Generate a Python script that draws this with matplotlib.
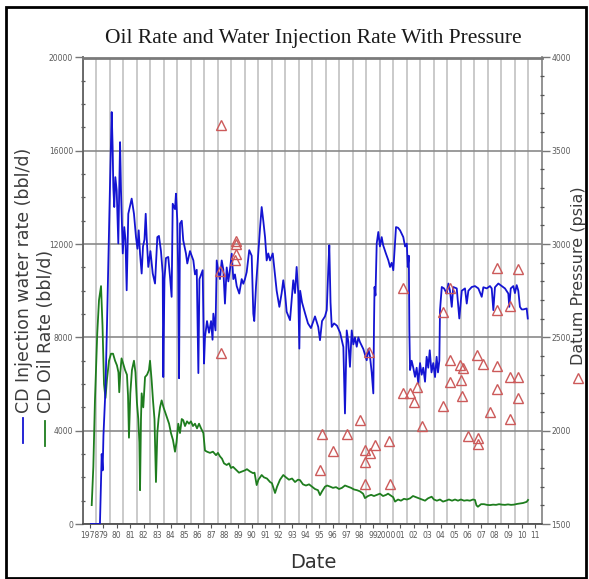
import matplotlib
matplotlib.use("Agg")
import matplotlib.pyplot as plt
from matplotlib.lines import Line2D
from matplotlib.patches import Rectangle
import numpy as np

# ---- water injection rate (bbl/d) ----
inj_year = [1978.60, 1979.25, 1979.27, 1979.40, 1979.47, 1979.53, 1979.64, 1979.68, 1979.79, 1979.90,
            1980.01, 1980.14, 1980.21, 1980.26, 1980.33, 1980.41, 1980.51, 1980.63, 1980.76, 1980.83,
            1980.90, 1980.96, 1981.07, 1981.16, 1981.25, 1981.37, 1981.62, 1981.79, 1981.94, 1982.05,
            1982.14, 1982.24, 1982.36, 1982.46, 1982.57, 1982.66, 1982.73, 1982.85, 1983.01, 1983.18,
            1983.35, 1983.52, 1983.64, 1983.79, 1983.92, 1983.96, 1984.05, 1984.16, 1984.33, 1984.46,
            1984.58, 1984.66, 1984.83, 1984.90, 1985.00, 1985.07, 1985.13, 1985.20, 1985.33, 1985.44,
            1985.64, 1985.74, 1985.94, 1986.19, 1986.31, 1986.44, 1986.56, 1986.64, 1986.88, 1986.98,
            1987.05, 1987.20, 1987.35, 1987.50, 1987.61, 1987.67, 1987.83, 1987.92, 1988.04, 1988.16,
            1988.29, 1988.41, 1988.53, 1988.66, 1988.78, 1988.90, 1989.03, 1989.15, 1989.27, 1989.40,
            1989.59, 1989.77, 1989.89, 1990.01, 1990.14, 1990.33, 1990.51, 1990.63, 1990.70, 1990.83,
            1991.00, 1991.13, 1991.25, 1991.37, 1991.50, 1991.62, 1991.74, 1991.87, 1992.07, 1992.16,
            1992.36, 1992.56, 1992.73, 1992.85, 1992.98, 1993.10, 1993.35, 1993.59, 1993.72, 1993.84,
            1993.96, 1994.04, 1994.10, 1994.24, 1994.47, 1994.68, 1994.90, 1995.20, 1995.44, 1995.57,
            1995.72, 1995.94, 1996.07, 1996.19, 1996.26, 1996.35, 1996.44, 1996.61, 1996.83, 1997.06,
            1997.30, 1997.42, 1997.55, 1997.67, 1997.79, 1997.92, 1998.04, 1998.16, 1998.29, 1998.41,
            1998.53, 1998.78, 1999.03, 1999.15, 1999.27, 1999.40, 1999.52, 1999.57, 1999.61, 1999.68,
            1999.77, 1999.89, 2000.01, 2000.14, 2000.25, 2000.45, 2000.63, 2000.76, 2000.88, 2001.00,
            2001.10, 2001.20, 2001.35, 2001.50, 2001.62, 2001.74, 2001.87, 2002.00, 2002.07, 2002.15,
            2002.19, 2002.24, 2002.36, 2002.48, 2002.61, 2002.73, 2002.85, 2002.98, 2003.10, 2003.22,
            2003.35, 2003.47, 2003.59, 2003.70, 2003.83, 2003.96, 2004.09, 2004.21, 2004.31, 2004.41,
            2004.46, 2004.59, 2004.76, 2004.96, 2005.08, 2005.20, 2005.33, 2005.44, 2005.70, 2005.89,
            2006.07, 2006.31, 2006.44, 2006.56, 2006.81, 2007.05, 2007.30, 2007.55, 2007.67, 2007.92,
            2008.16, 2008.29, 2008.41, 2008.53, 2008.78, 2009.03, 2009.27, 2009.52, 2009.59, 2009.70,
            2009.89, 2010.01, 2010.14, 2010.26, 2010.38, 2010.51, 2010.64, 2010.88, 2010.96]
inj_rate = [0, 0, 0, 3000, 2300, 3800, 5300, 5800, 8500, 11500,
            14400, 17660, 16160, 14450, 13590, 14870, 14300, 12030, 16370, 14300,
            12890, 11600, 12730, 12200, 10020, 13300, 13950, 13300, 12300, 11800,
            12590, 11590, 10740, 11900, 12200, 13300, 12300, 11020, 11700, 10740,
            10310, 12300, 12350, 11700, 10740, 6300, 10500, 11400, 11450, 10600,
            9740, 13730, 13500, 14160, 13000, 10700, 6250, 12880, 13000, 12160,
            11600, 11170, 11700, 11300, 10700, 10900, 6470, 10500, 10880, 6880,
            8000, 8700, 8200, 8700, 7900, 9020, 8300, 11300, 10800, 10500,
            11300, 10900, 9450, 11000, 10400, 10900, 11590, 10500, 10700, 10200,
            9880, 10500, 10300, 10500, 10800, 11740, 11500, 9020, 8700, 10200,
            11600, 12700, 13590, 13000, 12300, 11300, 11600, 11300, 11600, 11100,
            10000, 9310, 9900, 10450, 9900, 9100, 8740, 10450, 9900, 11020,
            9900, 7520, 10000, 9500, 9020, 8600, 8400, 8900, 8450, 7880,
            8700, 8900, 9170, 11020, 11950, 9500, 8450, 8600, 8500, 8200,
            7590, 4740, 8300, 7800, 6740, 8300, 7700, 8000, 7600, 8000,
            7800, 7500, 7020, 7500, 7200, 6500, 5600, 8500, 10160, 9800,
            12020, 12520, 11900, 12300, 11950, 11600, 11310, 11020, 11200, 10880,
            11800, 12730, 12700, 12590, 12450, 12300, 11900, 12020, 11020, 11500,
            8300, 6600, 7000, 6700, 6310, 6700, 6030, 6900, 6400, 6700,
            6100, 7170, 6700, 7450, 6500, 6900, 6300, 7170, 6500, 7000,
            9170, 10160, 10100, 9880, 10310, 10000, 9310, 10160, 10100, 8810,
            10000, 10100, 9450, 10000, 10160, 10200, 10100, 9740, 10150, 10100,
            10200, 10100, 9170, 10150, 10310, 10200, 10100, 9880, 9310, 10100,
            10200, 9900, 10240, 10000, 9310, 9200, 9200, 9240, 8810]

# ---- oil rate (bbl/d) ----
oil_year = [1978.66, 1978.78, 1978.90, 1979.07, 1979.20, 1979.35, 1979.46, 1979.57, 1979.68, 1979.79,
            1979.94, 1980.09, 1980.24, 1980.39, 1980.53, 1980.64, 1980.70, 1980.78, 1980.87, 1980.98,
            1981.13, 1981.27, 1981.35, 1981.42, 1981.52, 1981.64, 1981.79, 1981.90, 1982.01, 1982.11,
            1982.19, 1982.24, 1982.31, 1982.36, 1982.48, 1982.61, 1982.76, 1982.90, 1982.98, 1983.10,
            1983.20, 1983.31, 1983.42, 1983.52, 1983.61, 1983.72, 1983.84, 1983.98, 1984.21, 1984.39,
            1984.53, 1984.68, 1984.83, 1984.94, 1985.07, 1985.20, 1985.33, 1985.44, 1985.57, 1985.72,
            1985.87, 1986.01, 1986.16, 1986.31, 1986.46, 1986.61, 1986.76, 1986.93, 1987.05, 1987.20,
            1987.42, 1987.64, 1987.87, 1988.01, 1988.16, 1988.31, 1988.46, 1988.66, 1988.83, 1988.98,
            1989.13, 1989.40, 1989.57, 1989.79, 1990.01, 1990.16, 1990.39, 1990.61, 1990.72, 1990.88,
            1991.01, 1991.25, 1991.42, 1991.64, 1991.87, 1992.01, 1992.24, 1992.39, 1992.61, 1992.85,
            1993.05, 1993.27, 1993.50, 1993.72, 1993.94, 1994.09, 1994.31, 1994.53, 1994.76, 1994.98,
            1995.20, 1995.42, 1995.57, 1995.72, 1995.94, 1996.10, 1996.33, 1996.53, 1996.76, 1996.98,
            1997.20, 1997.42, 1997.64, 1997.87, 1998.09, 1998.31, 1998.53, 1998.76, 1998.90, 1999.13,
            1999.36, 1999.57, 1999.79, 2000.01, 2000.24, 2000.47, 2000.61, 2000.76, 2000.99, 2001.13,
            2001.35, 2001.57, 2001.79, 2002.01, 2002.24, 2002.46, 2002.68, 2002.90, 2003.13, 2003.35,
            2003.57, 2003.84, 2004.01, 2004.23, 2004.46, 2004.68, 2004.90, 2005.12, 2005.35, 2005.57,
            2005.79, 2006.01, 2006.24, 2006.46, 2006.68, 2006.90, 2007.05, 2007.16, 2007.27, 2007.50,
            2007.72, 2007.94, 2008.16, 2008.39, 2008.61, 2008.83, 2009.05, 2009.27, 2009.50, 2009.72,
            2009.94, 2010.16, 2010.38, 2010.61, 2010.88, 2010.98]
oil_rate = [810, 2450, 5300, 8170, 9600, 10200, 8500, 6000, 5400, 6200,
            7000, 7300, 7300, 7000, 6800, 6500, 5650, 6500, 7100, 6900,
            6600, 6400, 5500, 3700, 5600, 6600, 7000, 6500, 5200, 4500,
            3500, 1450, 4500, 5600, 5000, 6300, 6400, 6600, 7000, 6150,
            5300, 4500, 1800, 3900, 4500, 5000, 5300, 5000, 4600, 4300,
            3900, 3600, 3100, 3500, 4300, 3900, 4500, 4450, 4200, 4400,
            4300, 4400, 4200, 4300, 4100, 4300, 4100, 3900, 3150, 3100,
            3050, 3100, 2950, 3050, 2900, 2800, 2600, 2530, 2600, 2400,
            2450, 2300, 2200, 2250, 2300, 2350, 2250, 2180, 2200, 1670,
            1900, 2100, 2000, 1950, 1800, 1750, 1330, 1600, 1900, 2100,
            2000, 1900, 1950, 1800, 1900, 1880, 1700, 1650, 1700, 1600,
            1500, 1450, 1240, 1400, 1600, 1650, 1600, 1550, 1580, 1500,
            1550, 1650, 1600, 1550, 1480, 1450, 1400, 1300, 1110, 1200,
            1250, 1200, 1250, 1300, 1200, 1250, 1300, 1240, 1150, 960,
            1050, 1000, 1080, 1050, 1100, 1200, 1150, 1100, 1050, 1000,
            1100, 1170, 1050, 1000, 1050, 960, 1000, 1050, 1000, 1050,
            1000, 1050, 1000, 1020, 1000, 1050, 1030, 800, 740, 850,
            850, 820, 810, 830, 820, 850, 830, 820, 840, 820,
            830, 860, 880, 900, 950, 1030]

# ---- datum pressure (psia) ----
prs_year = [1988.24, 1988.16, 1988.24, 1989.35, 1989.35, 1989.35, 1989.30, 1995.70, 1995.57, 1996.56,
            1997.59, 1998.53, 1998.90, 1998.90, 1998.90, 1999.19, 1999.27, 1999.64, 2000.70, 2000.76,
            2001.74, 2001.74, 2002.24, 2002.56, 2002.73, 2003.10, 2004.66, 2004.66, 2005.20, 2005.20,
            2005.20, 2005.94, 2006.19, 2006.01, 2006.07, 2006.56, 2007.18, 2007.30, 2007.30, 2007.62,
            2008.16, 2008.66, 2008.66, 2008.66, 2008.66, 2009.64, 2009.64, 2009.64, 2010.26, 2010.26,
            2010.26]
prs_psia = [3640, 2854, 2417, 3015, 2999, 2945, 2913, 1980, 1789, 1891,
            1982, 2060, 1896, 1834, 1713, 2422, 1878, 1923, 1946, 1713,
            2200, 2767, 2203, 2155, 2235, 2025, 2132, 2638, 2378, 2262,
            2767, 2351, 2337, 2271, 2187, 1971, 2405, 1962, 1927, 2355,
            2101, 2346, 2221, 2646, 2874, 2289, 2065, 2670, 2289, 2176,
            2869]

year_ticks = list(range(1978, 2012))
year_labels = ["1978"] + [f"{y % 100:02d}" for y in range(1979, 2000)] + ["2000"] + \
              [f"{y % 100:02d}" for y in range(2001, 2012)]

W, H = 589, 579
fig = plt.figure(figsize=(W / 100, H / 100), dpi=100)
fig.patch.set_facecolor("white")

narrow = ["Liberation Sans Narrow", "DejaVu Sans"]
tick_col = "#5a5a5a"

ax = fig.add_axes([82.8 / W, 1 - 524 / H, (541.8 - 82.8) / W, (524 - 57.5) / H])
ax.set_xlim(1978, 2012)
ax.set_ylim(0, 20000)

# year boundaries as grid, labels centred in each year
ax.set_xticks([y + 0.5 for y in year_ticks])
ax.set_xticklabels(year_labels, fontsize=5.5, family=narrow, color=tick_col)
ax.set_xticks(year_ticks, minor=True)
ax.grid(True, which="minor", axis="x", color="#c6c6c6", lw=1.3)
ax.tick_params(axis="x", which="major", length=3, width=0.8, color="#555555", pad=2)
ax.tick_params(axis="x", which="minor", length=0)

ax.set_yticks([0, 4000, 8000, 12000, 16000, 20000])
ax.set_yticklabels(["0", "4000", "8000", "12000", "16000", "20000"],
                   fontsize=5.5, family=narrow, color=tick_col)
ax.set_yticks(np.arange(0, 20001, 1000), minor=True)
ax.grid(True, which="major", axis="y", color="#8a8a8a", lw=1.2)
ax.tick_params(axis="y", which="major", length=6, width=1.0, color="#777777", pad=1)
ax.tick_params(axis="y", which="minor", length=2.5, width=0.9, color="#555555", direction="inout")
ax.set_axisbelow(True)

for side, col, lw in [("left", "#606060", 1.3), ("bottom", "#505050", 1.3),
                      ("top", "#7a7a7a", 2.0), ("right", "#8a8a8a", 1.3)]:
    ax.spines[side].set_color(col)
    ax.spines[side].set_linewidth(lw)

ax.plot(oil_year, oil_rate, color="#1e7d1e", lw=1.3, zorder=3)
ax.plot(inj_year, inj_rate, color="#1414d2", lw=1.3, zorder=4)

ax2 = ax.twinx()
ax2.set_ylim(1500, 4000)
ax2.set_yticks([1500, 2000, 2500, 3000, 3500, 4000])
ax2.set_yticklabels(["1500", "2000", "2500", "3000", "3500", "4000"],
                    fontsize=5.5, family=narrow, color=tick_col)
ax2.set_yticks(np.arange(1500, 4001, 100), minor=True)
ax2.tick_params(axis="y", which="major", length=6, width=1.0, color="#777777", pad=1)
ax2.tick_params(axis="y", which="minor", length=2.5, width=0.9, color="#555555", direction="inout")
for side in ax2.spines:
    ax2.spines[side].set_visible(False)
ax2.plot(prs_year, prs_psia, ls="none", marker="^", ms=6.5, mfc="none",
         mec="#cc5a5a", mew=1.0, zorder=5)

# title and axis captions
fig.text(313 / W, 1 - 39 / H, "Oil Rate and Water Injection Rate With Pressure",
         ha="center", va="center", fontsize=15.5, family="Liberation Serif", color="#1a1a1a")
fig.text(313 / W, 1 - 562 / H, "Date", ha="center", va="center", fontsize=14,
         family=narrow, color="#333333")

lab_col = "#3c3c3c"
fig.add_artist(Line2D([23 / W, 23 / W], [1 - 443 / H, 1 - 418 / H], color="#1414d2", lw=1.3))
fig.text(24 / W, 1 - 413 / H, "CD Injection water rate (bbl/d)", rotation=90,
         ha="center", va="bottom", fontsize=12.5, color=lab_col)
fig.add_artist(Line2D([45 / W, 45 / W], [1 - 446 / H, 1 - 421 / H], color="#1e7d1e", lw=1.3))
fig.text(46 / W, 1 - 413 / H, "CD Oil Rate (bbl/d)", rotation=90,
         ha="center", va="bottom", fontsize=12.5, color=lab_col)

fig.add_artist(Line2D([578 / W], [1 - 378 / H], ls="none", marker="^", ms=6.5,
                      mfc="none", mec="#cc5a5a", mew=1.0))
fig.text(579 / W, 1 - 365 / H, "Datum Pressure (psia)", rotation=90,
         ha="center", va="bottom", fontsize=11.5, color=lab_col)

# outer frame
fig.add_artist(Rectangle((6 / W, 1 - 578 / H), (586 - 6) / W, (578 - 7) / H,
                         transform=fig.transFigure, fill=False, ec="black", lw=2))

fig.savefig("out.png", dpi=100)
